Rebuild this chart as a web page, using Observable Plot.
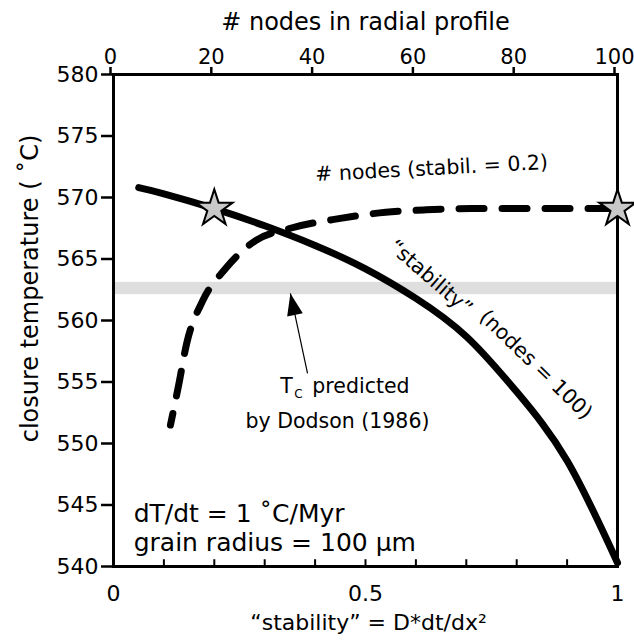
<!DOCTYPE html>
<html><head><meta charset="utf-8">
<script src="https://cdn.jsdelivr.net/npm/d3@7"></script>
<script src="https://cdn.jsdelivr.net/npm/@observablehq/plot@0.6"></script>
<style>html,body{margin:0;padding:0;background:#fff}</style>
</head><body><div id="chart"></div>
<script>
// ---- data ----
const stability = [0.05, 0.1, 0.2, 0.3, 0.4, 0.5, 0.6, 0.7, 0.8, 0.9, 1.0];
const tStability = [570.8, 570.3, 569.1, 567.7, 566.1, 564.2, 561.8, 558.7, 554.2, 548.6, 540.3];
const nodes = [11.3, 12.9, 14.5, 17.7, 22.2, 28.2, 35.1, 45, 54, 62, 71, 80, 100];
const tNodes = [551.5, 554.7, 558.1, 561.6, 564.2, 566.5, 567.5, 568.3, 568.8, 569.0, 569.1, 569.1, 569.1];
const starStability = [0.2, 1.0];
const starT = [569.1, 569.1];
const dodsonBand = [562.1, 563.1];
const arrowFrom = [0.385, 555.7];
const arrowTo = [0.351, 562.2];
const yTicks = [540, 545, 550, 555, 560, 565, 570, 575, 580];
const topTicks = [0, 20, 40, 60, 80, 100];
const bottomTicks = [0, 0.5, 1];
const minorTicks = [0, 0.1, 0.2, 0.3, 0.4, 0.5, 0.6, 0.7, 0.8, 0.9, 1];

const stabCurve = stability.map((s, i) => ({s, t: tStability[i]}));
const nodeCurve = nodes.map((n, i) => ({n, t: tNodes[i]}));
const stars = starStability.map((s, i) => ({s, t: starT[i]}));

const FF = "DejaVu Sans";
const headSymbol = {
  draw(ctx) { ctx.moveTo(0, 0); ctx.lineTo(-8, 22); ctx.lineTo(8, 22); ctx.closePath(); }
};

const chart = Plot.plot({
  width: 634, height: 643,
  marginTop: 74, marginRight: 17, marginBottom: 77, marginLeft: 113,
  style: {fontFamily: FF, background: "#fff", color: "#000"},
  x: {domain: [0, 1]},
  y: {domain: [540, 580]},
  marks: [
    Plot.rectY([dodsonBand], {x1: 0, x2: 1, y1: d => d[0], y2: d => d[1], fill: "#dedede"}),
    Plot.ruleX(minorTicks, {x: d => d, y1: 540, y2: 540.55, stroke: "#000", strokeWidth: 2}),
    Plot.axisY({ticks: yTicks, tickSize: 12, tickPadding: 3, fontSize: 22, label: null, strokeWidth: 2.5, fontFamily: FF}),
    Plot.axisX({anchor: "top", ticks: topTicks.map(d => d / 100), tickFormat: d => String(Math.round(d * 100)), tickSize: 8, tickPadding: 3, fontSize: 21, dx: -3, label: null, strokeWidth: 2.5, fontFamily: FF}),
    Plot.axisX({anchor: "bottom", ticks: bottomTicks, tickFormat: d => String(d), tickSize: 0, tickPadding: 19, fontSize: 22, label: null, fontFamily: FF}),
    Plot.frame({stroke: "#000", strokeWidth: 3}),
    Plot.line(stabCurve, {x: "s", y: "t", stroke: "#000", strokeWidth: 7, curve: "natural"}),
    Plot.line(nodeCurve, {x: d => d.n / 100, y: "t", stroke: "#000", strokeWidth: 7, curve: "monotone-x", strokeDasharray: "25,18", strokeDashoffset: 13}),
    Plot.dot(stars, {x: "s", y: "t", symbol: "star", r: 11.5, fill: "#c8c8c8", stroke: "#000", strokeWidth: 2}),
    Plot.link([{a: arrowFrom, b: arrowTo}], {x1: d => d.a[0], y1: d => d.a[1], x2: d => d.b[0], y2: d => d.b[1], stroke: "#000", strokeWidth: 1.2}),
    Plot.dot([arrowTo], {x: d => d[0], y: d => d[1], symbol: headSymbol, r: 5, fill: "#000", stroke: "none", rotate: -12}),
    // titles
    Plot.text(["# nodes in radial profile"], {text: d => d, frameAnchor: "top", lineAnchor: "middle", textAnchor: "middle", dy: -52, fontSize: 24, fontFamily: FF}),
    Plot.text(["\u201Cstability\u201D = D*dt/dx\u00B2"], {text: d => d, frameAnchor: "bottom", lineAnchor: "middle", textAnchor: "middle", dx: 3, dy: 56, fontSize: 22, fontFamily: FF}),
    Plot.text(["closure temperature ( \u02DAC)"], {text: d => d, frameAnchor: "left", lineAnchor: "middle", textAnchor: "middle", rotate: -90, dx: -83, dy: -32, fontSize: 24, fontFamily: FF}),
    // annotations
    Plot.text(["# nodes (stabil. = 0.2)"], {text: d => d, x: 0.631, y: 572.36, rotate: -3, fontSize: 20.5, fontFamily: FF}),
    Plot.text(["\u201Cstability\u201D"], {text: d => d, x: 0.629, y: 563.5, rotate: 41, fontSize: 20.5, fontFamily: FF}),
    Plot.text(["(nodes = 100)"], {text: d => d, x: 0.838, y: 556.4, rotate: 44, fontSize: 20.5, fontFamily: FF}),
    Plot.text(["T"], {text: d => d, x: 0.331, y: 554.63, textAnchor: "start", fontSize: 20.5, fontFamily: FF}),
    Plot.text(["C"], {text: d => d, x: 0.331, y: 554.63, dx: 14, dy: 8, textAnchor: "start", fontSize: 12, fontFamily: FF}),
    Plot.text(["predicted"], {text: d => d, x: 0.331, y: 554.63, dx: 32, textAnchor: "start", fontSize: 20.5, fontFamily: FF}),
    Plot.text(["by Dodson (1986)"], {text: d => d, x: 0.262, y: 551.79, textAnchor: "start", fontSize: 20.5, fontFamily: FF}),
    Plot.text(["dT/dt = 1 \u02DAC/Myr"], {text: d => d, x: 0.04, y: 544.3, textAnchor: "start", fontSize: 25, fontFamily: FF}),
    Plot.text(["grain radius = 100 \u03BCm"], {text: d => d, x: 0.04, y: 541.87, textAnchor: "start", fontSize: 25, fontFamily: FF})
  ]
});
document.getElementById("chart").appendChild(chart);
</script></body></html>
